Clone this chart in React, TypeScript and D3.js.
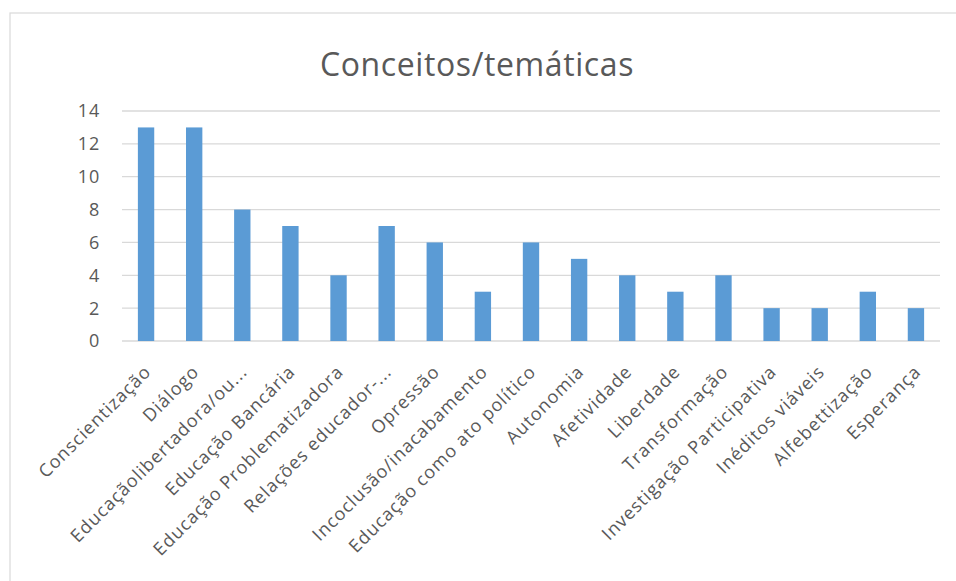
import React from "react";
import * as d3 from "d3";

const categories = [
  "Conscientização",
  "Diálogo",
  "Educaçãolibertadora/ou...",
  "Educação Bancária",
  "Educação Problematizadora",
  "Relações educador-...",
  "Opressão",
  "Incoclusão/inacabamento",
  "Educação como ato político",
  "Autonomia",
  "Afetividade",
  "Liberdade",
  "Transformação",
  "Investigação Participativa",
  "Inéditos viáveis",
  "Alfebettização",
  "Esperança",
];
const values = [13, 13, 8, 7, 4, 7, 6, 3, 6, 5, 4, 3, 4, 2, 2, 3, 2];
const yTicks = [0, 2, 4, 6, 8, 10, 12, 14];
const title = "Conceitos/temáticas";

const W = 956;
const H = 581;
const plot = { left: 122, right: 940, top: 111, bottom: 341 };
const FONT = "'Open Sans', 'Noto Sans', sans-serif";

export default function App() {
  const x = d3
    .scaleBand<string>()
    .domain(categories)
    .range([plot.left, plot.right])
    .paddingInner(0.66)
    .paddingOuter(0.33);
  const y = d3.scaleLinear().domain([0, 14]).range([plot.bottom, plot.top]);

  return (
    <svg
      width={W}
      height={H}
      style={{ position: "absolute", left: 0, top: 0, background: "#fff" }}
      fontFamily={FONT}
    >
      <rect x={10} y={13} width={W} height={H} fill="#fff" stroke="#d9d9d9" strokeWidth={1.2} />
      <text x={477} y={76} textAnchor="middle" fontSize={32} fill="#595959" letterSpacing={0.6}>
        {title}
      </text>
      {yTicks.map((t) => (
        <g key={t}>
          <line x1={plot.left} x2={plot.right} y1={y(t)} y2={y(t)} stroke="#d9d9d9" strokeWidth={1.3} />
          <text x={100} y={y(t)} dy="0.36em" textAnchor="end" fontSize={18} fill="#595959" letterSpacing={0.8}>
            {t}
          </text>
        </g>
      ))}
      {categories.map((c, i) => (
        <rect
          key={c}
          x={x(c)}
          y={y(values[i])}
          width={x.bandwidth()}
          height={y(0) - y(values[i])}
          fill="#5b9bd5"
        />
      ))}
      {categories.map((c) => {
        const cx = (x(c) ?? 0) + x.bandwidth() / 2 + 6;
        const cy = plot.bottom + 32;
        return (
          <text
            key={c}
            transform={`translate(${cx},${cy}) rotate(-45)`}
            textAnchor="end"
            fontSize={18}
            letterSpacing={1}
            fill="#595959"
          >
            {c}
          </text>
        );
      })}
    </svg>
  );
}
